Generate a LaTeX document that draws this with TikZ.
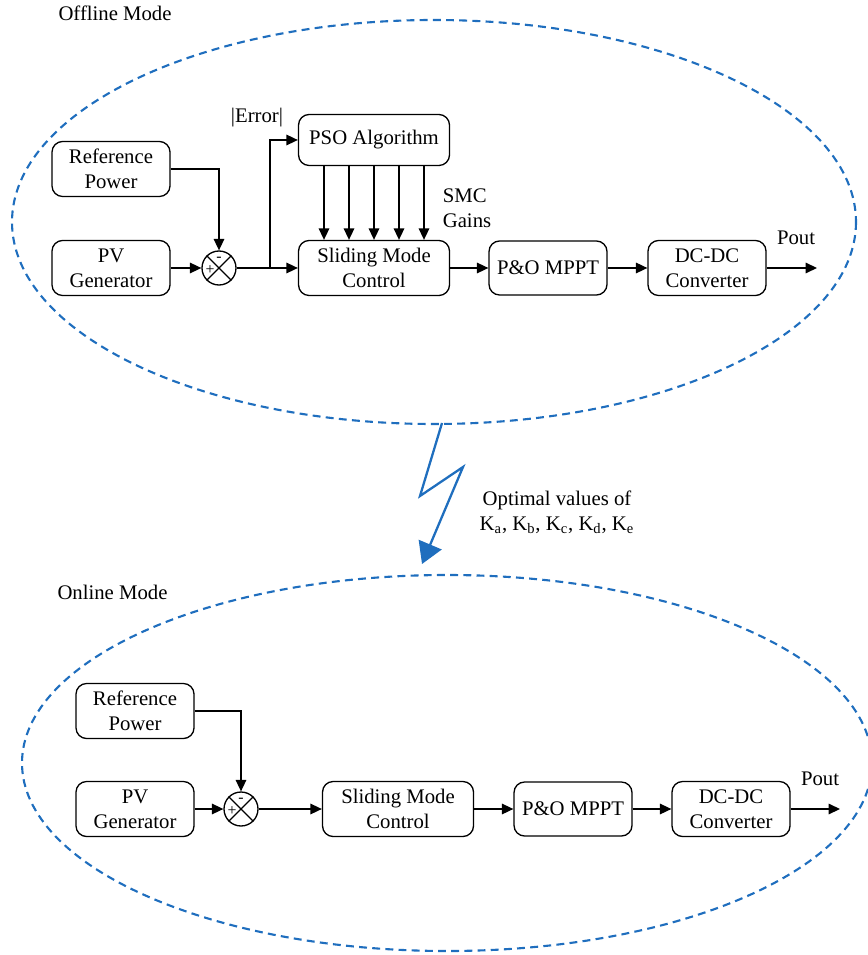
\documentclass[tikz,border=0pt]{standalone}
\usepackage{fontspec}
\setmainfont{Liberation Serif}
\usetikzlibrary{arrows.meta}
\definecolor{modeblue}{RGB}{31,110,190}
\tikzset{
  block/.style={draw, rounded corners=6pt, align=center, minimum width=2.36cm, minimum height=1.1cm, inner sep=2pt},
  sumjn/.style={draw, circle, minimum size=0.68cm, inner sep=0pt},
  modeline/.style={draw=modeblue, line width=1.2pt, dash pattern=on 4.5pt off 3pt},
  signlbl/.style={font=\small, inner sep=0pt},
}
\begin{document}
\begin{tikzpicture}[x=0.02cm, y=-0.02cm, line width=0.75pt, >={Triangle[length=6.5pt,width=6pt]},
  font=\fontsize{11.8pt}{14.2pt}\selectfont]
  \useasboundingbox (0,0) rectangle (867,955);
  % offline mode
  \draw[modeline] (434,222) ellipse [x radius=422, y radius=202];
  \node[anchor=west] (offl) at (52,13) {Offline Mode};
  \node[block] (ref1) at (111,169) {Reference\\Power};
  \node[block] (pv1) at (111,268) {PV\\Generator};
  \node[sumjn] (jn1) at (219,268) {};
  \draw (jn1.north west) -- (jn1.south east) (jn1.north east) -- (jn1.south west);
  \node[signlbl] at ([yshift=-5pt]jn1.north) {-};
  \node[signlbl] at ([xshift=5pt,yshift=-1pt]jn1.west) {+};
  \node[block, minimum width=3.02cm, minimum height=1.02cm] (pso) at (374,140) {PSO Algorithm};
  \node[block, minimum width=3.02cm] (smc1) at (374,268) {Sliding Mode\\Control};
  \node[block, minimum height=1.08cm] (mppt1) at (548,268) {P\&O MPPT};
  \node[block] (dcdc1) at (707,268) {DC-DC\\Converter};
  \coordinate (out1) at (817,268);
  \coordinate (br1) at (270,268);
  \draw[->] (pv1) -- (jn1);
  \draw[->] (ref1.east) -| (jn1.north);
  \draw[->] (jn1) -- (smc1);
  \draw[->] (br1) |- (pso.west);
  \foreach \dx in {-50,-25,0,25,50}
    \draw[->] ([xshift=\dx*0.02cm]pso.south) -- ([xshift=\dx*0.02cm]smc1.north);
  \draw[->] (smc1) -- (mppt1);
  \draw[->] (mppt1) -- (dcdc1);
  \draw[->] (dcdc1) -- (out1);
  \node (err) at (257,118) {|Error|};
  \node[align=left] (gains) at (467,208) {SMC\\Gains};
  \node (pout1) at (796,238) {Pout};
  % transfer of gains
  \draw[modeblue, line width=1.3pt, -{Triangle[length=12pt,width=14pt]}]
    (442,423) -- (420,496) -- (463,467) -- (422,564);
  \node[align=center] (optv) at (557,512) {Optimal values of\\K\textsubscript{a}, K\textsubscript{b}, K\textsubscript{c}, K\textsubscript{d}, K\textsubscript{e}};
  % online mode
  \draw[modeline] (447,763) ellipse [x radius=425, y radius=188];
  \node[anchor=west] (onl) at (51,592) {Online Mode};
  \node[block] (ref2) at (135,711) {Reference\\Power};
  \node[block] (pv2) at (135,809) {PV\\Generator};
  \node[sumjn] (jn2) at (241,809) {};
  \draw (jn2.north west) -- (jn2.south east) (jn2.north east) -- (jn2.south west);
  \node[signlbl] at ([yshift=-5pt]jn2.north) {-};
  \node[signlbl] at ([xshift=5pt,yshift=-1pt]jn2.west) {+};
  \node[block, minimum width=3.02cm] (smc2) at (398,809) {Sliding Mode\\Control};
  \node[block, minimum height=1.08cm] (mppt2) at (573,809) {P\&O MPPT};
  \node[block] (dcdc2) at (731,809) {DC-DC\\Converter};
  \coordinate (out2) at (840,809);
  \draw[->] (pv2) -- (jn2);
  \draw[->] (ref2.east) -| (jn2.north);
  \draw[->] (jn2) -- (smc2);
  \draw[->] (smc2) -- (mppt2);
  \draw[->] (mppt2) -- (dcdc2);
  \draw[->] (dcdc2) -- (out2);
  \node (pout2) at (820,779) {Pout};
\end{tikzpicture}
\end{document}
